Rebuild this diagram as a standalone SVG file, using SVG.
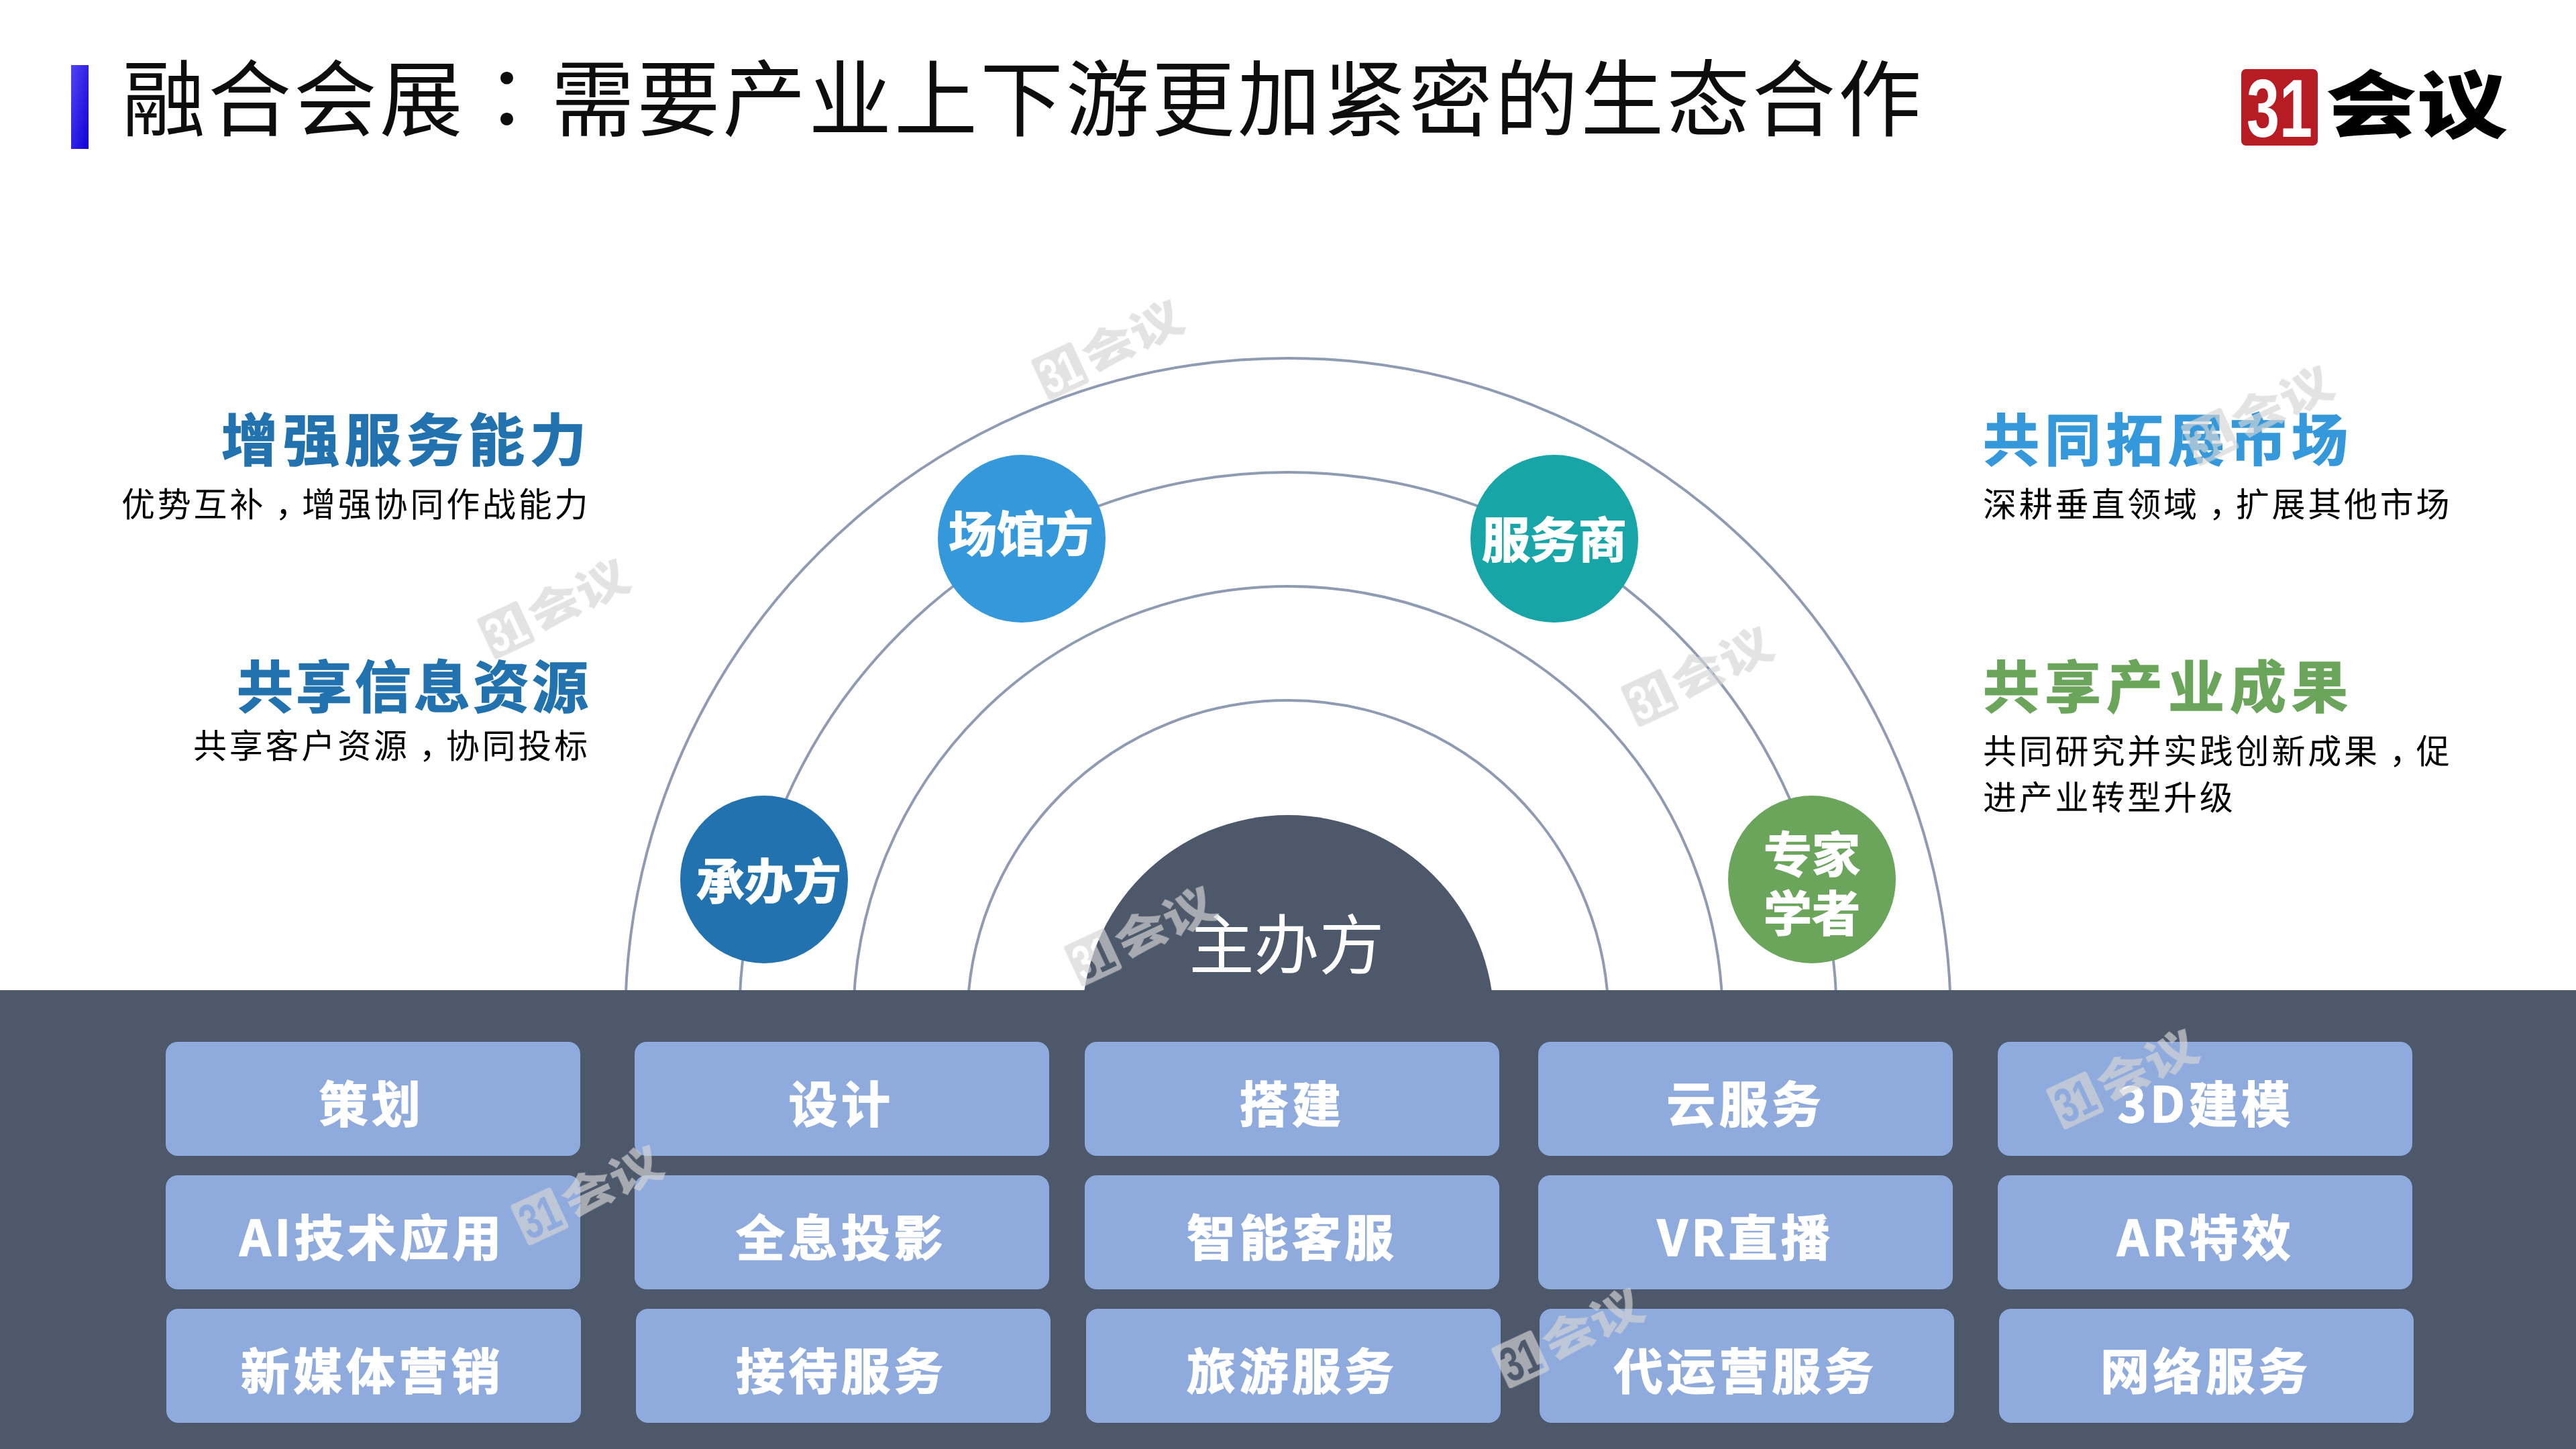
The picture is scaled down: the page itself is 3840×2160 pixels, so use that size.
<svg xmlns="http://www.w3.org/2000/svg" width="3840" height="2160" viewBox="0 0 3840 2160">
<style>
text{font-family:"Noto Sans CJK SC","Noto Sans",sans-serif}
.h{font-size:84px;font-weight:700;letter-spacing:8px;stroke-width:1.5px}
.blue{fill:#2172AE;stroke:#2172AE}
.sky{fill:#3498DB;stroke:#3498DB}
.green{fill:#6AA55B;stroke:#6AA55B}
.s{font-size:50px;letter-spacing:3.8px;fill:#000}
.k{letter-spacing:-10.2px}
.p{font-family:"Noto Sans CJK TC",sans-serif}
.c{font-size:72px;font-weight:700;fill:#fff;stroke:#fff;stroke-width:1.5px;text-anchor:middle}
.b{fill:#8FAADC}
.t{font-size:73px;font-weight:700;fill:#fff;stroke:#fff;stroke-width:1.5px;text-anchor:middle;letter-spacing:5.5px}
.arc{fill:none;stroke:#8E9BB3;stroke-width:4}
.num{font-family:"Liberation Sans",sans-serif;font-size:122px;font-weight:700}
.hy{font-size:108px;font-weight:900}
</style>
<defs>
<linearGradient id="bar" x1="0" y1="0" x2="1" y2="1"><stop offset="0" stop-color="#5144F2"/><stop offset="1" stop-color="#1000D6"/></linearGradient>
<mask id="ko" maskUnits="userSpaceOnUse" x="3330" y="95" width="135" height="130"><rect x="3330" y="95" width="135" height="130" fill="#fff"/><text class="num" x="3349" y="204" textLength="98" lengthAdjust="spacingAndGlyphs" fill="#000">31</text></mask>
<g id="w">
<rect x="3341" y="103" width="114" height="114" rx="7" mask="url(#ko)"/>
<text class="hy" x="3467" y="196" textLength="271" lengthAdjust="spacingAndGlyphs">会议</text>
</g>
</defs>
<rect width="3840" height="2160" fill="#fff"/>
<g id="title">
<rect x="106" y="97" width="26" height="125" fill="url(#bar)"/>
<text x="182" y="193" font-size="124" letter-spacing="3.9" fill="#0D0D0D">融合会展<tspan class="p">&#xFF1A;</tspan>需要产业上下游更加紧密的生态合作</text>
</g>
<g id="logo">
<rect x="3341" y="103" width="114" height="114" rx="7" fill="#B71C25"/>
<text class="num" x="3349" y="204" textLength="98" lengthAdjust="spacingAndGlyphs" fill="#fff">31</text>
<text class="hy" x="3467" y="196" textLength="271" lengthAdjust="spacingAndGlyphs" fill="#000">会议</text>
</g>
<g id="connectors">
<path class="arc" d="M932 1522A988 988 0 0 1 2908 1522"/>
<path class="arc" d="M1102 1522A818 818 0 0 1 2738 1522"/>
<path class="arc" d="M1272 1522A648 648 0 0 1 2568 1522"/>
<path class="arc" d="M1442 1522A478 478 0 0 1 2398 1522"/>
</g>
<g id="zhubanfang">
<circle cx="1920" cy="1522" r="307" fill="#4D586B"/>
<rect y="1476" width="3840" height="684" fill="#4D586B"/>
<text x="1918" y="1444" font-size="97" fill="#fff" text-anchor="middle">主办方</text>
</g>
<g id="n1"><circle cx="1139" cy="1311" r="125" fill="#2172AE"/><text class="c" x="1146" y="1340">承办方</text></g>
<g id="n2"><circle cx="1523" cy="803" r="125" fill="#3498DB"/><text class="c" x="1522" y="822">场馆方</text></g>
<g id="n3"><circle cx="2317" cy="803" r="125" fill="#17A5A8"/><text class="c" x="2317" y="831">服务商</text></g>
<g id="n4"><circle cx="2701" cy="1311" r="125" fill="#6AA55B"/><text class="c" x="2701" y="1300">专家</text><text class="c" x="2701" y="1388">学者</text></g>
<g id="left1"><text class="h blue" x="330" y="687">增强服务能力</text><text class="s" x="181" y="770">优势互补<tspan class="k" dx="14">&#xFF0C;</tspan>增强协同作战能力</text></g>
<g id="left2"><text class="h blue" x="353" y="1055" style="letter-spacing:4px">共享信息资源</text><text class="s" x="288" y="1130">共享客户资源<tspan class="k" dx="14">&#xFF0C;</tspan>协同投标</text></g>
<g id="right1"><text class="h sky" x="2956" y="687">共同拓展市场</text><text class="s" x="2956" y="770">深耕垂直领域<tspan class="k" dx="14">&#xFF0C;</tspan>扩展其他市场</text></g>
<g id="right2"><text class="h green" x="2956" y="1055">共享产业成果</text><text class="s" x="2956" y="1138">共同研究并实践创新成果<tspan class="k" dx="14">&#xFF0C;</tspan>促</text><text class="s" x="2956" y="1207">进产业转型升级</text></g>
<g id="r1c1"><rect class="b" x="247" y="1553" width="618" height="170" rx="18"/><text class="t" x="554" y="1673">策划</text></g>
<g id="r1c2"><rect class="b" x="946" y="1553" width="618" height="170" rx="18"/><text class="t" x="1254" y="1673">设计</text></g>
<g id="r1c3"><rect class="b" x="1617" y="1553" width="618" height="170" rx="18"/><text class="t" x="1926" y="1673">搭建</text></g>
<g id="r1c4"><rect class="b" x="2293" y="1553" width="618" height="170" rx="18"/><text class="t" x="2602" y="1673">云服务</text></g>
<g id="r1c5"><rect class="b" x="2978" y="1553" width="618" height="170" rx="18"/><text class="t" x="3288" y="1673">3D建模</text></g>
<g id="r2c1"><rect class="b" x="247" y="1752" width="618" height="170" rx="18"/><text class="t" x="555" y="1872">AI技术应用</text></g>
<g id="r2c2"><rect class="b" x="946" y="1752" width="618" height="170" rx="18"/><text class="t" x="1254" y="1872">全息投影</text></g>
<g id="r2c3"><rect class="b" x="1617" y="1752" width="618" height="170" rx="18"/><text class="t" x="1926" y="1872">智能客服</text></g>
<g id="r2c4"><rect class="b" x="2293" y="1752" width="618" height="170" rx="18"/><text class="t" x="2602" y="1872">VR直播</text></g>
<g id="r2c5"><rect class="b" x="2978" y="1752" width="618" height="170" rx="18"/><text class="t" x="3288" y="1872">AR特效</text></g>
<g id="r3c1"><rect class="b" x="248" y="1951" width="618" height="170" rx="18"/><text class="t" x="555" y="2071">新媒体营销</text></g>
<g id="r3c2"><rect class="b" x="948" y="1951" width="618" height="170" rx="18"/><text class="t" x="1254" y="2071">接待服务</text></g>
<g id="r3c3"><rect class="b" x="1619" y="1951" width="618" height="170" rx="18"/><text class="t" x="1926" y="2071">旅游服务</text></g>
<g id="r3c4"><rect class="b" x="2295" y="1951" width="618" height="170" rx="18"/><text class="t" x="2602" y="2071">代运营服务</text></g>
<g id="r3c5"><rect class="b" x="2980" y="1951" width="618" height="170" rx="18"/><text class="t" x="3288" y="2071">网络服务</text></g>
<g id="watermarks" fill="#D5D5D5" opacity=".67">
<use href="#w" transform="translate(1654 519) rotate(-25) scale(.585) translate(-3537 -160)"/>
<use href="#w" transform="translate(828 905) rotate(-25) scale(.585) translate(-3537 -160)"/>
<use href="#w" transform="translate(2533 1006) rotate(-25) scale(.585) translate(-3537 -160)"/>
<use href="#w" transform="translate(3368 617) rotate(-25) scale(.585) translate(-3537 -160)"/>
<use href="#w" transform="translate(1703 1393) rotate(-25) scale(.585) translate(-3537 -160)"/>
<use href="#w" transform="translate(3167 1606) rotate(-25) scale(.585) translate(-3537 -160)"/>
<use href="#w" transform="translate(878 1779) rotate(-25) scale(.585) translate(-3537 -160)"/>
<use href="#w" transform="translate(2340 1992) rotate(-25) scale(.585) translate(-3537 -160)"/>
</g>
</svg>
